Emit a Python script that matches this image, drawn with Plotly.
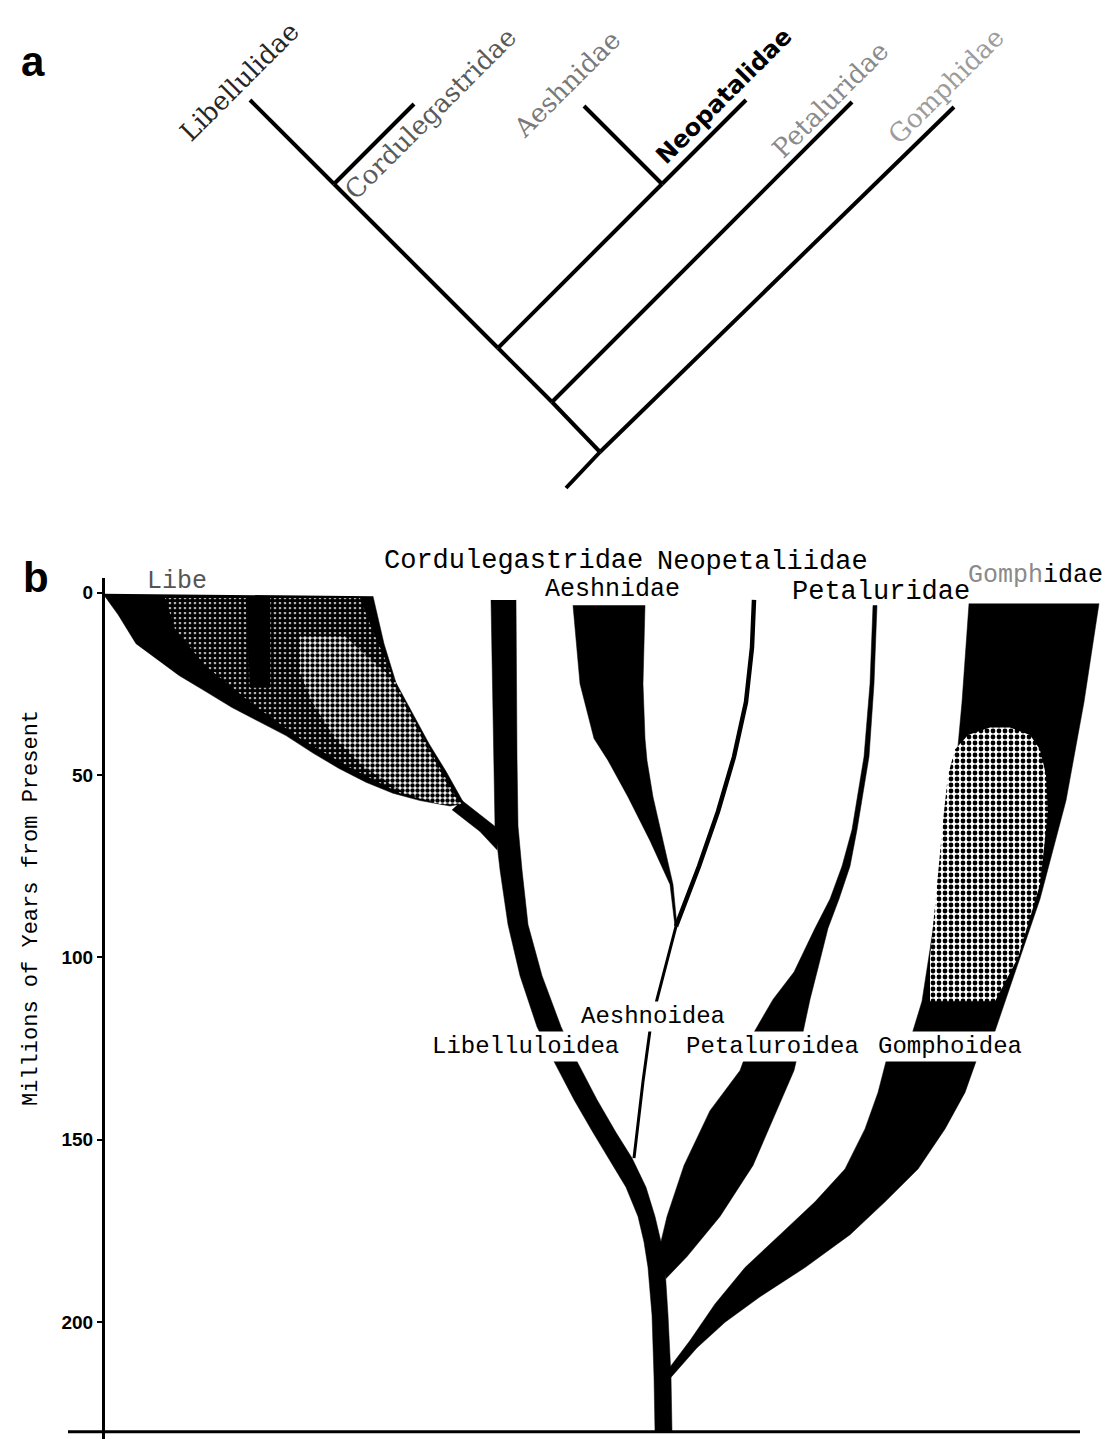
import plotly.graph_objects as go

W, H = 1109, 1439

# ---------------- Panel a : cladogram (coordinates read in reference pixel frame) ----------------
tip_names = ["Libellulidae", "Cordulegastridae", "Aeshnidae", "Neopatalidae", "Petaluridae", "Gomphidae"]
tip_x = [250, 414, 584, 746, 852, 954]
tip_y = [100, 104, 106, 100, 102, 107]
node_names = ["C", "AN", "AJ", "PN", "GN", "R"]
node_x = [334, 662, 498, 552, 600, 566]
node_y = [184, 184, 348, 402, 452, 488]
edges = [("R", "GN"), ("GN", "Gomphidae"), ("GN", "PN"), ("PN", "Petaluridae"), ("PN", "AJ"),
         ("AJ", "AN"), ("AN", "Aeshnidae"), ("AN", "Neopatalidae"), ("AJ", "C"),
         ("C", "Cordulegastridae"), ("C", "Libellulidae")]

# label centres / styles for panel a
a_label_x = [239, 430, 567, 724, 830, 946]
a_label_y = [82, 114, 84, 96, 100, 86]
a_label_col = ["#262626", "#5a5a5a", "#7a7a7a", "#000000", "#8a8a8a", "#9c9c9c"]

# ---------------- Panel b : spindle diagram (t = Myr before present, x = horizontal position) ----------------
ticks_myr = [0, 50, 100, 150, 200]

# Libelluloidea trunk incl. Cordulegastridae and basal stem
trunk_t = [2, 45, 64, 76, 91, 105, 119, 128, 139, 148, 155, 163, 171, 178, 185, 198, 215, 230]
trunk_left = [491, 494, 495, 500, 508, 520, 537, 553, 574, 593, 608, 626, 638, 644, 648, 652, 654, 655]
trunk_right = [516, 517, 518, 522, 528, 542, 561, 576, 597, 616, 632, 646, 655, 661, 665, 668, 671, 672]

# Libellulidae
lib_lt = [0.3, 6, 14, 22.7, 27, 31.5, 35.5, 39.2, 44, 48.2, 52, 55, 57, 58.5]
lib_lx = [103, 118, 136, 179, 205, 232, 260, 286, 313, 339, 366, 393, 420, 450]
lib_rt = [1.0, 14, 24.7, 32.3, 41.4, 49, 57.8]
lib_rx = [373, 384, 396, 411, 429, 446, 464]
lib_stem_x = [462, 497, 497, 480, 452]
lib_stem_t = [57.0, 64.5, 70.5, 65.5, 59.5]
lib_speck_t = [1.5, 10, 20, 30, 40, 48, 55, 58]
lib_speck_left = [165, 175, 205, 250, 300, 350, 400, 440]
lib_speck_right = [360, 372, 388, 405, 424, 440, 454, 462]
lib_light_t = [12, 22, 30, 40, 48, 55, 58]
lib_light_left = [300, 300, 312, 335, 365, 405, 440]
lib_light_right = [345, 386, 403, 422, 438, 452, 460]
lib_band_t = [1.0, 26, 26, 1.0]
lib_band_x = [246, 250, 270, 270]

# Aeshnidae
aes_t = [3.5, 25, 40, 46, 56, 68, 80, 91.5]
aes_left = [573, 580, 594, 608, 628, 650, 670, 675]
aes_right = [645, 643, 645, 647, 653, 663, 673, 677]

# Neopetaliidae thin lineage, then Aeshnoidea stem
neo_t = [2, 15, 30, 45, 60, 75, 91.5]
neo_x = [754, 752, 746, 734, 718, 699, 676]
aesh_t = [91.5, 111.5, 120, 134, 155]
aesh_x = [676, 657, 650, 643, 634]

# Petaluridae / Petaluroidea
pet_lt = [3.5, 25, 45, 65, 75, 84, 92, 104, 111.5, 120.5, 131, 142, 157, 171, 179]
pet_lx = [873, 870, 864, 852, 842, 830, 815, 794, 773, 754, 740, 710, 684, 667, 660]
pet_rt = [3.5, 25, 45, 65, 75, 84, 92, 104, 111.5, 120.5, 131, 142, 157, 171, 182, 188]
pet_rx = [877, 874, 869, 857, 850, 839, 828, 817, 810, 803, 794, 777, 753, 720, 687, 666]

# Gomphidae / Gomphoidea
gom_lt = [3, 30, 57, 84, 104, 112, 121, 128.5, 137, 147, 158, 167, 176, 185, 195, 205, 213]
gom_lx = [969, 962, 953, 938, 927, 922, 912, 886, 878, 865, 845, 815, 780, 745, 715, 690, 668]
gom_rt = [3, 30, 57, 84, 104, 112, 121, 128.5, 137, 147, 158, 167, 176, 185, 193, 200, 207, 216]
gom_rx = [1099, 1084, 1066, 1040, 1015, 1005, 994, 976, 965, 945, 918, 885, 850, 805, 760, 725, 697, 668]
gom_speck_t = [37, 39, 43, 50, 60, 80, 100, 112]
gom_speck_left = [990, 968, 955, 948, 944, 937, 930, 930]
gom_speck_right = [1010, 1030, 1040, 1046, 1048, 1040, 1018, 995]

# labels of panel b
top_labels = ["Libe", "Cordulegastridae", "Neopetaliidae", "Aeshnidae", "Petaluridae",
              "<span style='color:#8a8a8a'>Gomph</span>idae"]
top_label_x = [145, 382, 655, 543, 790, 966]
top_label_y = [581, 561, 562, 589, 592, 575]
top_label_size = [25, 27, 27, 25, 27, 25]
top_label_col = ["#555555", "black", "black", "black", "black", "black"]

super_labels = ["Aeshnoidea", "Libelluloidea", "Petaluroidea", "Gomphoidea"]
super_x = [653, 525, 772, 950]
super_t = [116.2, 124.4, 124.4, 124.4]

fig = go.Figure()

# ---- panel a edges
pos = {n: (x, y) for n, x, y in zip(tip_names, tip_x, tip_y)}
pos.update({n: (x, y) for n, x, y in zip(node_names, node_x, node_y)})
ex, ey = [], []
for a, b in edges:
    ex += [pos[a][0], pos[b][0], None]
    ey += [pos[a][1], pos[b][1], None]
fig.add_trace(go.Scatter(x=ex, y=ey, mode="lines", line=dict(color="black", width=4),
                         xaxis="x2", yaxis="y2", hoverinfo="skip"))


def poly(tl, xl, tr, xr):
    return list(xl) + list(reversed(xr)), list(tl) + list(reversed(tr))


def add_fill(xs, ys, pattern=None):
    kw = dict(x=xs, y=ys, mode="lines", fill="toself", fillcolor="black",
              line=dict(color="black", width=0.5), hoverinfo="skip")
    if pattern is not None:
        kw["fillpattern"] = pattern
        kw["line"] = dict(width=0)
    fig.add_trace(go.Scatter(**kw))


add_fill(*poly(trunk_t, trunk_left, trunk_t, trunk_right))
add_fill(*poly(lib_lt, lib_lx, lib_rt, lib_rx))
add_fill(lib_stem_x, lib_stem_t)
add_fill(*poly(aes_t, aes_left, aes_t, aes_right))
add_fill(*poly(pet_lt, pet_lx, pet_rt, pet_rx))
add_fill(*poly(gom_lt, gom_lx, gom_rt, gom_rx))

fig.add_trace(go.Scatter(x=neo_x, y=neo_t, mode="lines", line=dict(color="black", width=4.5),
                         hoverinfo="skip"))
fig.add_trace(go.Scatter(x=aesh_x, y=aesh_t, mode="lines", line=dict(color="black", width=3),
                         hoverinfo="skip"))

# speckled (worn print) areas: black dots on white, high solidity -> mostly black
spk_dark = dict(shape=".", fgcolor="black", bgcolor="white", size=5, solidity=0.8, fillmode="replace")
spk_mid = dict(shape=".", fgcolor="black", bgcolor="white", size=5, solidity=0.62, fillmode="replace")
spk_light = dict(shape=".", fgcolor="black", bgcolor="white", size=6, solidity=0.5, fillmode="replace")
add_fill(*poly(lib_speck_t, lib_speck_left, lib_speck_t, lib_speck_right), spk_dark)
add_fill(*poly(lib_light_t, lib_light_left, lib_light_t, lib_light_right), spk_mid)
add_fill(lib_band_x, lib_band_t)
add_fill(*poly(gom_speck_t, gom_speck_left, gom_speck_t, gom_speck_right), spk_light)


def px(x):
    return x / W


def py(y):
    return 1 - y / H


ann = []
for name, x, y, c in zip(tip_names, a_label_x, a_label_y, a_label_col):
    if name == "Neopatalidae":
        f = dict(family="DejaVu Sans", size=24, color=c, weight="bold")
    else:
        f = dict(family="DejaVu Serif", size=26, color=c)
    ann.append(dict(text=name, x=px(x), y=py(y), xref="paper", yref="paper", textangle=-45,
                    showarrow=False, font=f, xanchor="center", yanchor="middle"))

for txt, x, y, s, c in zip(top_labels, top_label_x, top_label_y, top_label_size, top_label_col):
    ann.append(dict(text=txt, x=px(x), y=py(y), xref="paper", yref="paper", showarrow=False,
                    xanchor="left", yanchor="middle",
                    font=dict(family="Liberation Mono", size=s, color=c)))

for txt, x, t in zip(super_labels, super_x, super_t):
    ann.append(dict(text=txt, x=x, y=t, xref="x", yref="y", showarrow=False, xanchor="center",
                    yanchor="middle", bgcolor="white", borderpad=1,
                    font=dict(family="Liberation Mono", size=24, color="black")))

ann.append(dict(text="a", x=px(33), y=py(61), xref="paper", yref="paper", showarrow=False,
                xanchor="center", yanchor="middle",
                font=dict(family="Liberation Sans", size=42, color="black", weight="bold")))
ann.append(dict(text="b", x=px(36), y=py(577), xref="paper", yref="paper", showarrow=False,
                xanchor="center", yanchor="middle",
                font=dict(family="Liberation Sans", size=42, color="black", weight="bold")))
ann.append(dict(text="Millions of Years from Present", x=px(31), y=py(908), xref="paper",
                yref="paper", showarrow=False, textangle=-90, xanchor="center", yanchor="middle",
                font=dict(family="Liberation Mono", size=22, color="black")))

fig.update_layout(
    width=W, height=H, margin=dict(l=0, r=0, t=0, b=0),
    paper_bgcolor="white", plot_bgcolor="white", showlegend=False,
    annotations=ann,
    shapes=[dict(type="line", xref="paper", yref="y", x0=68 / W, x1=1080 / W, y0=230, y1=230,
                 line=dict(color="black", width=3))],
    xaxis=dict(domain=[0, 1], range=[0, W], showline=False, showgrid=False, zeroline=False,
               showticklabels=False, ticks=""),
    yaxis=dict(domain=[0, 1 - 578 / H], range=[232, -4], anchor="free", position=103 / W,
               showline=True, linecolor="black", linewidth=3, showgrid=False, zeroline=False,
               tickvals=ticks_myr, ticktext=[str(v) for v in ticks_myr], ticks="outside", ticklen=5,
               tickwidth=2, tickcolor="black",
               tickfont=dict(family="Liberation Sans", size=19, color="black", weight="bold")),
    xaxis2=dict(domain=[0, 1], range=[0, W], anchor="y2", visible=False),
    yaxis2=dict(domain=[1 - 500 / H, 1], range=[500, 0], anchor="x2", visible=False),
)

fig.write_html("out.html", config={"displayModeBar": False},
               post_script="document.body.style.margin='0';")
